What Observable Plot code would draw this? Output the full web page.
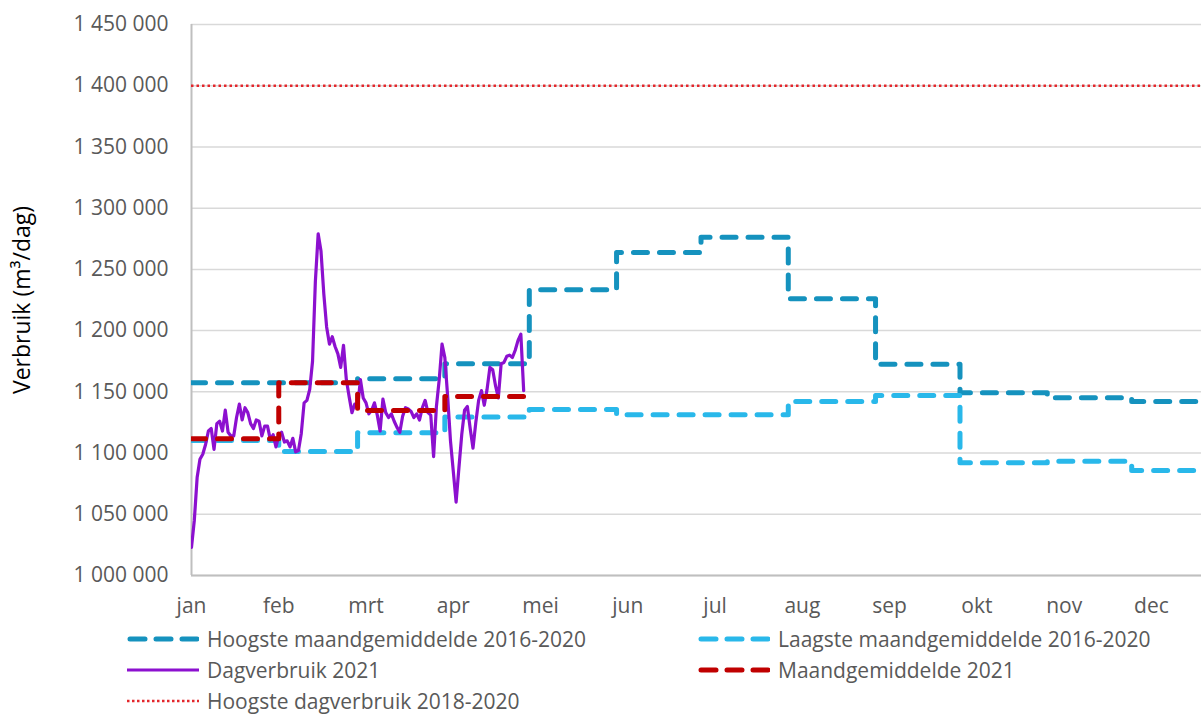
<!DOCTYPE html>
<html>
<head>
<meta charset="utf-8">
<script src="https://cdn.jsdelivr.net/npm/d3@7"></script>
<script src="https://cdn.jsdelivr.net/npm/@observablehq/plot@0.6"></script>
<style>
  body { margin: 0; background: white; }
  #wrap { position: relative; width: 1201px; height: 716px; overflow: hidden; font-family: "Open Sans", sans-serif; }
  .leg { position: absolute; display: flex; align-items: center; height: 24px; line-height: 24px; font-size: 21px; color: #595959; white-space: nowrap; }
  .leg svg { margin-right: 8px; }
</style>
</head>
<body>
<div id="wrap"></div>
<script>
// ---- data ----
const monthLabels = ["jan","feb","mrt","apr","mei","jun","jul","aug","sep","okt","nov","dec"];
const hoogsteMaand = [1157500, 1157500, 1160600, 1173000, 1233300, 1263700, 1276300, 1226000, 1172500, 1149200, 1145100, 1142100];
const laagsteMaand = [1110300, 1101300, 1116500, 1129500, 1135600, 1131200, 1131200, 1142100, 1147000, 1092000, 1093300, 1085800];
const maand2021 = [1111600, 1157500, 1134800, 1146200];
const hoogsteDag = 1400000;
const dagverbruik = [
  1023000,1045000,1080000,1095000,1099000,1107000,1118000,1120000,1103000,1124000,
  1126000,1118000,1135000,1117000,1114000,1114000,1129000,1140000,1127000,1137000,
  1133000,1124000,1120000,1127000,1126000,1114000,1122000,1122000,1111000,1115000,
  1105000,1114000,1117000,1109000,1110000,1105000,1112000,1101000,1102000,1116000,
  1141000,1143000,1152000,1175000,1240000,1279000,1265000,1230000,1203000,1189000,
  1195000,1187000,1181000,1170000,1188000,1160000,1146000,1133000,1140000,1137000,
  1160000,1145000,1141000,1132000,1135000,1141000,1131000,1118000,1144000,1133000,
  1129000,1132000,1126000,1121000,1117000,1130000,1137000,1136000,1134000,1129000,
  1132000,1127000,1137000,1143000,1133000,1131000,1097000,1138000,1160000,1189000,
  1178000,1146000,1110000,1085000,1060000,1088000,1115000,1135000,1138000,1120000,
  1104000,1125000,1143000,1151000,1139000,1152000,1170000,1168000,1155000,1145000,
  1173000,1174000,1179000,1180000,1178000,1184000,1192000,1197000,1151000
];
const seriesNames = ["Hoogste maandgemiddelde 2016-2020","Laagste maandgemiddelde 2016-2020","Dagverbruik 2021","Maandgemiddelde 2021","Hoogste dagverbruik 2018-2020"];
const yTitle = "Verbruik (m³/dag)";
const colors = {hoog: "#1592BE", laag: "#29B8EA", dag: "#8C10CF", maand: "#C00000", dot: "#E3262B"};

// ---- helpers ----
const jan1 = new Date(Date.UTC(2021, 0, 1));
const xEnd = new Date(Date.UTC(2021, 11, 25, 19));
const monthStart = i => d3.utcMonth.offset(jan1, i);
function steps(vals) {
  const pts = vals.map((v, i) => ({date: monthStart(i), v}));
  pts.push({date: monthStart(vals.length), v: vals[vals.length - 1]});
  return pts;
}
const daily = dagverbruik.map((v, i) => ({date: d3.utcDay.offset(jan1, i), v}));
const xTicks = d3.range(12).map(i => d3.utcDay.offset(jan1, 31 * i));
const yTicks = d3.range(1000000, 1450001, 50000);
const fmt = v => d3.format(",")(v).replace(/,/g, " ");

const dash = {strokeDasharray: "14,12", strokeLinecap: "round", strokeLinejoin: "round", strokeWidth: 5};

const chart = Plot.plot({
  width: 1201,
  height: 625,
  marginLeft: 191,
  marginRight: 0,
  marginTop: 24,
  marginBottom: 50,
  x: {type: "utc", domain: [jan1, xEnd]},
  y: {domain: [1000000, 1450000]},
  style: {fontFamily: "Open Sans", fontSize: "21px", color: "#595959", background: "white", overflow: "visible"},
  marks: [
    Plot.gridY(yTicks, {stroke: "#D9D9D9", strokeOpacity: 1, strokeWidth: 1.5}),
    Plot.axisY(yTicks, {tickSize: 0, tickPadding: 23, tickFormat: fmt, label: null, fill: "#595959"}),
    Plot.axisX(xTicks, {tickSize: 0, tickPadding: 23, tickFormat: (d, i) => monthLabels[i], label: null, fill: "#595959"}),
    Plot.ruleY([1000000], {stroke: "#BFBFBF", strokeWidth: 2}),
    Plot.ruleX([jan1], {stroke: "#BFBFBF", strokeWidth: 2}),
    Plot.text([yTitle], {frameAnchor: "left", textAnchor: "middle", rotate: -90, dx: -169, fill: "#000", fontSize: 23}),
    Plot.lineY(steps(hoogsteMaand), {x: "date", y: "v", curve: "step-after", stroke: colors.hoog, clip: true, ...dash}),
    Plot.lineY(steps(laagsteMaand), {x: "date", y: "v", curve: "step-after", stroke: colors.laag, clip: true, ...dash}),
    Plot.lineY(daily, {x: "date", y: "v", stroke: colors.dag, strokeWidth: 3.2, strokeLinejoin: "round", clip: true}),
    Plot.lineY(steps(maand2021), {x: "date", y: "v", curve: "step-after", stroke: colors.maand, clip: true, ...dash}),
    Plot.ruleY([hoogsteDag], {stroke: colors.dot, strokeWidth: 2.5, strokeDasharray: "2.5,3"})
  ]
});
const wrap = document.getElementById("wrap");
wrap.appendChild(chart);

// ---- legend ----
const legendItems = [
  {name: seriesNames[0], color: colors.hoog, type: "dash", left: 127, top: 627},
  {name: seriesNames[1], color: colors.laag, type: "dash", left: 698, top: 627},
  {name: seriesNames[2], color: colors.dag, type: "solid", left: 127, top: 658},
  {name: seriesNames[3], color: colors.maand, type: "dash", left: 698, top: 658},
  {name: seriesNames[4], color: colors.dot, type: "dot", left: 127, top: 689}
];
for (const it of legendItems) {
  const div = document.createElement("div");
  div.className = "leg";
  div.style.left = it.left + "px";
  div.style.top = it.top + "px";
  let line;
  if (it.type === "dash") line = `<line x1="3" y1="6" x2="70" y2="6" stroke="${it.color}" stroke-width="5" stroke-linecap="round" stroke-dasharray="15,11"/>`;
  else if (it.type === "solid") line = `<line x1="0" y1="6" x2="72" y2="6" stroke="${it.color}" stroke-width="3"/>`;
  else line = `<line x1="0" y1="6" x2="72" y2="6" stroke="${it.color}" stroke-width="2.5" stroke-dasharray="2.5,2.5"/>`;
  div.innerHTML = `<svg width="72" height="12">${line}</svg><span></span>`;
  div.querySelector("span").textContent = it.name;
  wrap.appendChild(div);
}
</script>
</body>
</html>
